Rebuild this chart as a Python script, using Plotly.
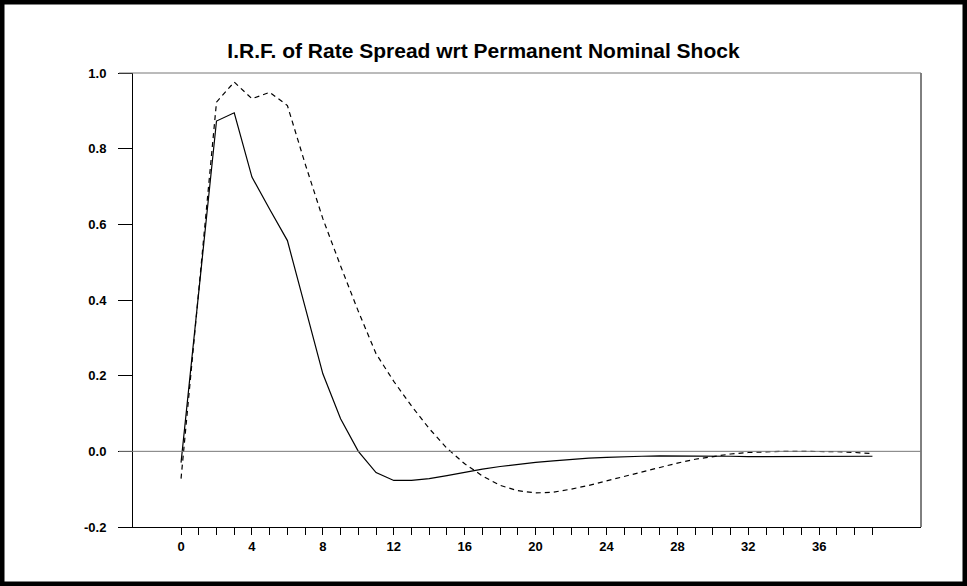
import plotly.graph_objects as go

# Impulse response horizon (periods)
periods = list(range(40))

# Point estimate of the response (solid)
irf_solid = [
    -0.030, 0.420, 0.873, 0.895, 0.725, 0.640, 0.557, 0.381, 0.205, 0.086,
    0.000, -0.056, -0.077, -0.077, -0.072, -0.064, -0.055, -0.047, -0.040, -0.034,
    -0.029, -0.025, -0.021, -0.018, -0.016, -0.014, -0.013, -0.012, -0.012, -0.012,
    -0.012, -0.013, -0.014, -0.014, -0.014, -0.013, -0.013, -0.013, -0.013, -0.013,
]

# Alternative response (dashed)
irf_dashed = [
    -0.072, 0.430, 0.923, 0.976, 0.932, 0.949, 0.914, 0.760, 0.615, 0.490,
    0.370, 0.258, 0.185, 0.120, 0.060, 0.008, -0.033, -0.065, -0.090, -0.104,
    -0.110, -0.108, -0.100, -0.090, -0.078, -0.065, -0.053, -0.042, -0.031, -0.021,
    -0.013, -0.007, -0.003, -0.001, 0.000, 0.000, 0.000, -0.001, -0.003, -0.006,
]

x_tick_vals = list(range(40))
x_tick_text = [f"<b>{v}</b>" if v % 4 == 0 else "" for v in x_tick_vals]
y_tick_vals = [-0.2, 0.0, 0.2, 0.4, 0.6, 0.8, 1.0]
y_tick_text = [f"<b>{v:.1f}</b>" for v in y_tick_vals]

W, H = 967, 586
ML, MR, MT, MB = 133, 46, 73, 59
PW, PH = W - ML - MR, H - MT - MB

fig = go.Figure()
fig.add_trace(go.Scatter(
    x=periods, y=irf_solid, mode="lines",
    line=dict(color="black", width=1.2), showlegend=False,
))
fig.add_trace(go.Scatter(
    x=periods, y=irf_dashed, mode="lines",
    line=dict(color="black", width=1.2, dash="5px,4px"), showlegend=False,
))

tick_font = dict(family="Liberation Sans, Arial, sans-serif", size=13, color="black")

fig.update_layout(
    width=W, height=H,
    margin=dict(l=ML, r=MR, t=MT, b=MB, pad=0),
    paper_bgcolor="white", plot_bgcolor="white",
    title=dict(
        text="<b>I.R.F. of Rate Spread wrt Permanent Nominal Shock</b>",
        x=0.5, xref="container", xanchor="center",
        y=1 - 51 / H, yref="container", yanchor="middle",
        font=dict(family="Liberation Sans Narrow, Arial Narrow, Liberation Sans, sans-serif",
                  size=21, color="black"),
    ),
    xaxis=dict(
        range=[-2.71, 41.74], showgrid=False, zeroline=False,
        showline=True, linecolor="black", linewidth=1,
        tickmode="array", tickvals=x_tick_vals, ticktext=x_tick_text,
        ticks="outside", ticklen=7, tickcolor="black", tickwidth=1,
        tickfont=tick_font, ticklabelstandoff=0,
    ),
    yaxis=dict(
        range=[-0.2, 1.0], showgrid=False, zeroline=False,
        showline=True, linecolor="black", linewidth=1,
        tickmode="array", tickvals=y_tick_vals, ticktext=y_tick_text,
        ticks="outside", ticklen=14, tickcolor="black", tickwidth=1,
        tickfont=tick_font, ticklabelstandoff=9,
    ),
)

# Frame: black right edge, grey top edge, grey zero line reaching the tick column
shapes = [
    dict(type="line", xref="paper", yref="paper", x0=1, x1=1, y0=0, y1=1,
         line=dict(color="black", width=1)),
    dict(type="line", xref="paper", yref="paper", x0=-14 / PW, x1=1, y0=1, y1=1,
         line=dict(color="#777777", width=1)),
    dict(type="line", xref="paper", yref="y", x0=-14 / PW, x1=1, y0=0, y1=0,
         line=dict(color="#777777", width=1)),
    # heavy black border around the whole figure
    dict(type="rect", xref="paper", yref="paper",
         x0=-ML / PW, x1=1 + MR / PW, y0=-MB / PH, y1=1 + MT / PH,
         line=dict(color="black", width=9), fillcolor="rgba(0,0,0,0)"),
]
fig.update_layout(shapes=shapes)

fig.write_html("out.html")
